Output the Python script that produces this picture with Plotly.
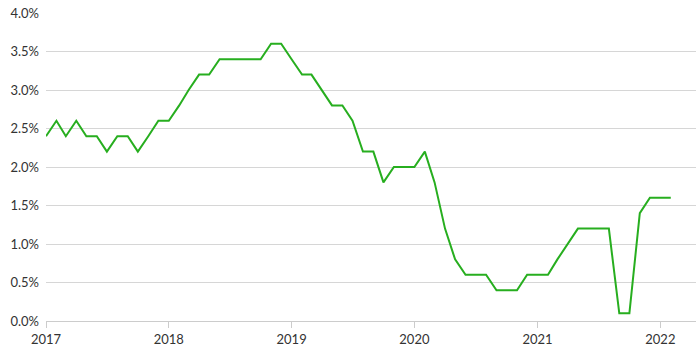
import plotly.graph_objects as go

dates = pd_dates = None
months = [f"{y}-{m:02d}-01" for y in range(2017, 2023) for m in range(1, 13)][:62]
values = [
    2.4, 2.6, 2.4, 2.6, 2.4, 2.4, 2.2, 2.4, 2.4, 2.2, 2.4, 2.6,
    2.6, 2.8, 3.0, 3.2, 3.2, 3.4, 3.4, 3.4, 3.4, 3.4, 3.6, 3.6,
    3.4, 3.2, 3.2, 3.0, 2.8, 2.8, 2.6, 2.2, 2.2, 1.8, 2.0, 2.0,
    2.0, 2.2, 1.8, 1.2, 0.8, 0.6, 0.6, 0.6, 0.4, 0.4, 0.4, 0.6,
    0.6, 0.6, 0.8, 1.0, 1.2, 1.2, 1.2, 1.2, 0.1, 0.1, 1.4, 1.6,
    1.6, 1.6,
]
y_ticks = [0, 0.5, 1.0, 1.5, 2.0, 2.5, 3.0, 3.5, 4.0]
y_tick_labels = [f"{v:.1f}%" for v in y_ticks]
x_ticks = ["2017-01-01", "2018-01-01", "2019-01-01", "2020-01-01", "2021-01-01", "2022-01-01"]
x_tick_labels = ["2017", "2018", "2019", "2020", "2021", "2022"]

fig = go.Figure(go.Scatter(
    x=months, y=values, mode="lines",
    line=dict(color="#27ae1f", width=2),
    hoverinfo="skip",
))

fig.update_layout(
    width=700, height=354,
    margin=dict(l=46, r=4, t=13, b=33),
    paper_bgcolor="white", plot_bgcolor="white",
    font=dict(family="Lato, 'Noto Sans', sans-serif", size=13, color="#333333"),
    showlegend=False,
)
fig.update_xaxes(
    type="date",
    range=["2017-01-01", "2022-04-17"],
    tickvals=x_ticks, ticktext=x_tick_labels,
    showgrid=False, zeroline=False,
    showline=True, linecolor="#cccccc", linewidth=1,
    ticks="outside", ticklen=6, tickcolor="#cccccc",
)
fig.update_yaxes(
    range=[0, 4.0],
    tickvals=y_ticks, ticktext=y_tick_labels,
    showgrid=True, gridcolor="#d6d6d6", gridwidth=1,
    zeroline=False, showline=False, ticks="", ticklabelstandoff=6,
)

fig.write_html("out.html")
